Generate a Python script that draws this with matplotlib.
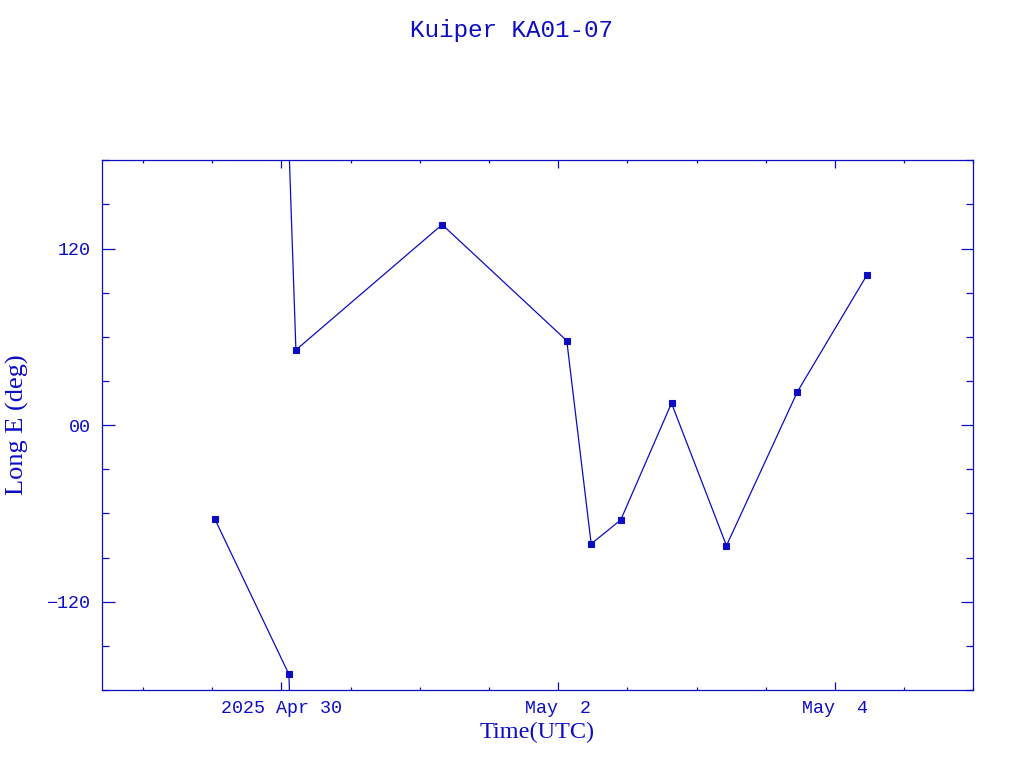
import matplotlib
matplotlib.use("Agg")
import matplotlib.pyplot as plt
import matplotlib.dates as mdates
import numpy as np
import pandas as pd

# ---- data ----
times = ["2025-04-29 12:27", "2025-04-30 01:17", "2025-04-30 02:30",
         "2025-05-01 03:52", "2025-05-02 01:29", "2025-05-02 05:43",
         "2025-05-02 10:51", "2025-05-02 19:39", "2025-05-03 05:11",
         "2025-05-03 17:30", "2025-05-04 05:34"]
longitude = [-63.9, -169.3, 51.1, 136.3, 57.4, -80.7, -64.4, 14.9, -81.9, 22.8, 102.1]

x_limits = ["2025-04-28 16:55", "2025-05-05 00:00"]
y_limits = [-180, 180]
x_major_ticks = ["2025-04-30", "2025-05-02", "2025-05-04"]
x_major_labels = ["2025 Apr 30", "May  2", "May  4"]
y_major_ticks = [-120, 0, 120]
y_major_labels = ["\u2212120", "00", "120"]
title = "Kuiper KA01-07"
x_label = "Time(UTC)"
y_label = "Long E (deg)"

COL = "#0c0cc4"
MONO = ["Liberation Mono", "DejaVu Sans Mono"]
SERIF = ["Liberation Serif", "DejaVu Serif"]

fig = plt.figure(figsize=(10.24, 7.68), dpi=100)
ax = fig.add_axes([102.3 / 1024, 1 - 690 / 768, (973.3 - 102.3) / 1024, (690 - 160.3) / 768])

t = mdates.date2num(pd.to_datetime(times).to_pydatetime())
lon = np.array(longitude)

# line segments with wrap handling at +/-180
for i in range(len(t) - 1):
    d = lon[i + 1] - lon[i]
    if abs(d) > 180:
        s = np.sign(d)
        ax.plot([t[i], t[i + 1]], [lon[i], lon[i + 1] - 360 * s], color=COL, lw=0.9)
        ax.plot([t[i], t[i + 1]], [lon[i] + 360 * s, lon[i + 1]], color=COL, lw=0.9)
    else:
        ax.plot([t[i], t[i + 1]], [lon[i], lon[i + 1]], color=COL, lw=0.9)

ax.plot(t, lon, linestyle="none", marker="s", markersize=4.2, color=COL,
        markerfacecolor=COL, markeredgewidth=0.8)

xl = mdates.date2num(pd.to_datetime(x_limits).to_pydatetime())
ax.set_xlim(xl[0], xl[1])
ax.set_ylim(*y_limits)

xmaj = mdates.date2num(pd.to_datetime(x_major_ticks).to_pydatetime())
ax.set_xticks(xmaj)
ax.set_xticklabels(x_major_labels, fontfamily=MONO, fontsize=13.2, color=COL)
ax.xaxis.set_minor_locator(mdates.HourLocator(byhour=[0, 12]))
ax.set_yticks(y_major_ticks)
ax.set_yticklabels(y_major_labels, fontfamily=MONO, fontsize=13.2, color=COL)
ax.yaxis.set_minor_locator(matplotlib.ticker.MultipleLocator(30))

ax.tick_params(axis="x", which="major", direction="in", length=5.8, width=0.9,
               color=COL, top=True, bottom=True, pad=7)
ax.tick_params(axis="x", which="minor", direction="in", length=2.5, width=0.9,
               color=COL, top=True, bottom=True)
ax.tick_params(axis="y", which="major", direction="in", length=9, width=0.9,
               color=COL, left=True, right=True, pad=8)
ax.tick_params(axis="y", which="minor", direction="in", length=4.7, width=0.9,
               color=COL, left=True, right=True)
for sp in ax.spines.values():
    sp.set_color(COL)
    sp.set_linewidth(0.9)

fig.text(0.5, 1 - 30 / 768, title, ha="center", va="center", color=COL,
         fontfamily=MONO, fontsize=17.5)
fig.text(537 / 1024, 1 - 732 / 768, x_label, ha="center", va="center", color=COL,
         fontfamily=SERIF, fontsize=17.5)
fig.text(17 / 1024, 1 - 425 / 768, y_label, ha="center", va="center", color=COL,
         fontfamily=SERIF, fontsize=19, rotation=90)

fig.savefig("out.png", dpi=100)
